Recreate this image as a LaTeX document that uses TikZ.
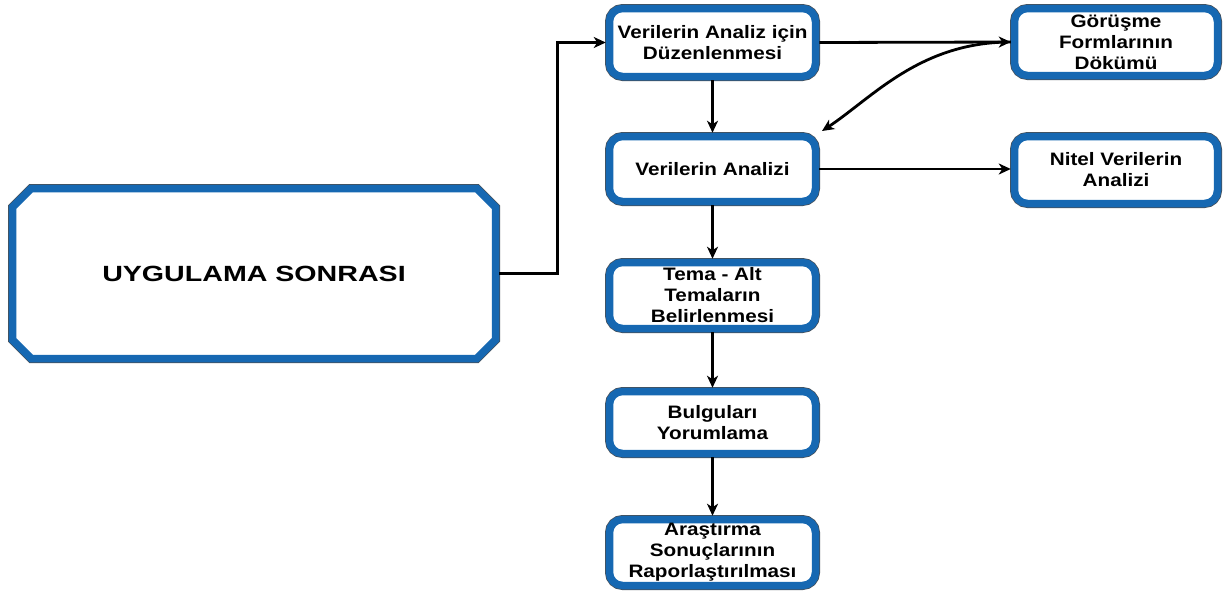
\documentclass[tikz,border=0pt]{standalone}
\usepackage{fontspec}
\setmainfont{Liberation Sans}
\newfontfamily\boxfont[FakeStretch=1.15]{Liberation Sans}
\newfontfamily\bigfont[FakeStretch=1.3]{Liberation Sans}
\usetikzlibrary{shapes.misc,arrows.meta}
\definecolor{boxblue}{RGB}{22,104,178}
\definecolor{rimgray}{RGB}{70,80,90}
\tikzset{
  x=1pt, y=-1pt,
  stepbox/.style={
    rounded corners=13pt, draw=boxblue, line width=7.5pt, fill=white,
    preaction={draw=rimgray, line width=9pt},
    align=center, inner sep=0pt,
    font=\boxfont\bfseries\fontsize{18}{21}\selectfont,
    minimum width=206pt},
  bigbox/.style={
    chamfered rectangle, chamfered rectangle xsep=11pt, chamfered rectangle ysep=11pt,
    draw=boxblue, line width=7.5pt, fill=white,
    preaction={draw=rimgray, line width=9pt},
    minimum width=483pt, minimum height=170pt, inner sep=0pt,
    font=\bigfont\bfseries\fontsize{22}{26}\selectfont},
  flow/.style={line width=2.8pt, -{Stealth[length=12pt,width=11pt,inset=3.5pt]}}
}
\begin{document}
\begin{tikzpicture}
\useasboundingbox (0,0) rectangle (1225,592);

\node[bigbox] (post) at (254,273.5) {UYGULAMA SONRASI};

\node[stepbox, minimum height=68pt] (prep) at (712.5,42.5) {Verilerin Analiz için\\Düzenlenmesi};
\node[stepbox, minimum height=65pt] (anal) at (712.5,169) {Verilerin Analizi};
\node[stepbox, minimum height=66pt] (tema) at (712.5,295.5) {Tema - Alt\\Temaların\\Belirlenmesi};
\node[stepbox, minimum height=62pt] (bulg) at (712.5,422.5) {Bulguları\\Yorumlama};
\node[stepbox, minimum height=66pt] (rapor) at (712.5,552.5) {Araştırma\\Sonuçlarının\\Raporlaştırılması};

\node[stepbox, minimum width=203pt, minimum height=67pt] (gor) at (1116,42) {Görüşme\\Formlarının\\Dökümü};
\node[stepbox, minimum width=203pt, minimum height=67pt] (nitel) at (1116,170) {Nitel Verilerin\\Analizi};

\coordinate (back) at (822,131);

\draw[flow] (post.east) -- ++(58,0) |- (prep.west);
\draw[flow] (prep.east) -- (gor.west);
\draw[flow] (gor.west) .. controls (920,42) and (872,98) .. (back);
\draw[flow] (prep.south) -- (anal.north);
\draw[flow] (anal.east) -- (anal.east -| nitel.west);
\draw[flow] (anal.south) -- (tema.north);
\draw[flow] (tema.south) -- (bulg.north);
\draw[flow] (bulg.south) -- (rapor.north);
\end{tikzpicture}
\end{document}
